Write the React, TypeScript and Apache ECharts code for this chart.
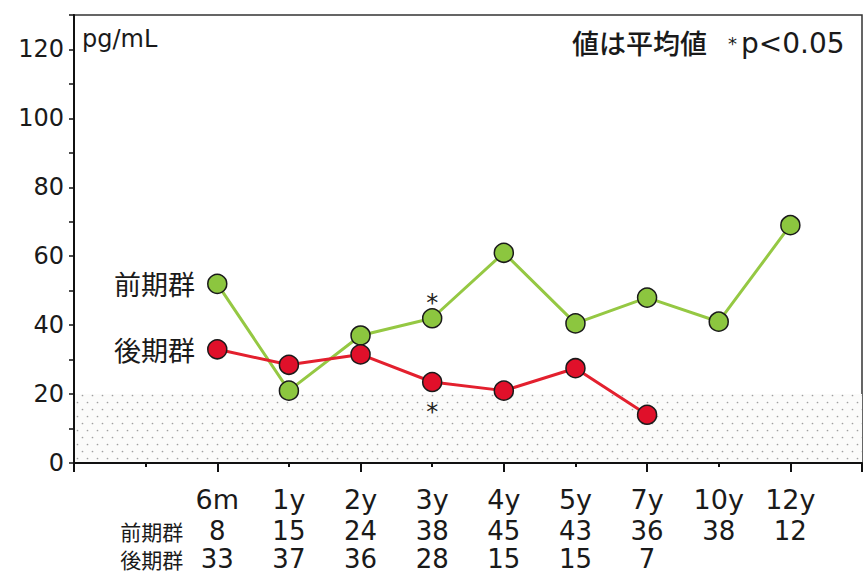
import React, { useEffect, useRef } from "react";
import * as echarts from "echarts";

const categories = ["6m", "1y", "2y", "3y", "4y", "5y", "7y", "10y", "12y"];
const earlyName = "前期群";
const lateName = "後期群";
const earlyValues = [52, 21, 37, 42, 61, 40.5, 48, 41, 69];
const lateValues = [33, 28.5, 31.5, 23.5, 21, 27.5, 14];
const earlyCounts = [8, 15, 24, 38, 45, 43, 36, 38, 12];
const lateCounts = [33, 37, 36, 28, 15, 15, 7];
const significantIdx = [3];
const normalRange = [0, 20];
const yTickLabels = [0, 20, 40, 60, 80, 100, 120];

const LATIN = "'DejaVu Sans', 'Noto Sans CJK JP', sans-serif";
const CJK = "'Noto Sans CJK JP', 'DejaVu Sans', sans-serif";

const dotSvg =
  '<svg xmlns="http://www.w3.org/2000/svg" width="10" height="14">' +
  '<rect width="10" height="14" fill="#fbfbfa"/>' +
  '<circle cx="2.5" cy="3.5" r="0.85" fill="#a0a0a0"/>' +
  '<circle cx="7.5" cy="10.5" r="0.85" fill="#a0a0a0"/></svg>';
const dotUrl = "data:image/svg+xml;utf8," + encodeURIComponent(dotSvg);

function buildData(values: number[], name: string, starOffsetY: number) {
  return values.map((v, i) => {
    const item: any = { value: [i, v] };
    if (i === 0) {
      item.label = {
        show: true,
        position: "left",
        distance: 12,
        formatter: name,
        fontFamily: CJK,
        fontSize: 27,
        color: "#1a1a1a",
      };
    } else if (significantIdx.includes(i)) {
      item.label = {
        show: true,
        position: "inside",
        offset: [0, starOffsetY],
        formatter: "*",
        fontFamily: LATIN,
        fontSize: 24,
        color: "#222",
      };
    }
    return item;
  });
}

export default function App() {
  const ref = useRef<HTMLDivElement>(null);
  useEffect(() => {
    if (!ref.current) return;
    const chart = echarts.init(ref.current, null, { renderer: "svg" });
    const option: any = {
      animation: false,
      backgroundColor: "#ffffff",
      grid: {
        left: 74,
        right: 1,
        top: 15,
        bottom: 112,
        show: true,
        borderColor: "#333",
        borderWidth: 1.5,
        backgroundColor: "transparent",
      },
      xAxis: [
        {
          type: "value",
          min: -2,
          max: 9,
          interval: 1,
          position: "bottom",
          axisLine: { show: true, onZero: false, lineStyle: { color: "#111", width: 2 } },
          axisTick: { show: true, length: 4, lineStyle: { color: "#111", width: 2 } },
          splitLine: { show: false },
          axisLabel: {
            show: true,
            margin: 19,
            showMinLabel: true,
            showMaxLabel: true,
            formatter: (v: number) => {
              if (v === -1) return `{c| }\n{h|${earlyName}}\n{h|${lateName}}`;
              if (v < 0 || v >= categories.length) return "";
              const a = earlyCounts[v] != null ? String(earlyCounts[v]) : " ";
              const b = lateCounts[v] != null ? String(lateCounts[v]) : " ";
              return `{c|${categories[v]}}\n{n|${a}}\n{n|${b}}`;
            },
            rich: {
              c: { fontFamily: LATIN, fontSize: 27, lineHeight: 35, color: "#1a1a1a" },
              n: { fontFamily: LATIN, fontSize: 26, lineHeight: 28, color: "#1a1a1a" },
              h: { fontFamily: CJK, fontSize: 21, lineHeight: 28, color: "#1a1a1a", padding: [0, 0, 0, 12] },
            },
          },
        },
        {
          type: "value",
          min: -2,
          max: 9,
          interval: 2,
          position: "bottom",
          axisLine: { show: false, onZero: false },
          axisTick: { show: true, length: 9, lineStyle: { color: "#111", width: 2 } },
          splitLine: { show: false },
          axisLabel: { show: false },
        },
      ],
      yAxis: {
        type: "value",
        min: 0,
        max: 130,
        interval: 10,
        axisLine: { show: true, onZero: false, lineStyle: { color: "#111", width: 2 } },
        axisTick: { show: true, length: 5, lineStyle: { color: "#111", width: 1.5 } },
        splitLine: { show: false },
        axisLabel: {
          margin: 10,
          fontFamily: LATIN,
          fontSize: 24,
          color: "#1a1a1a",
          formatter: (v: number) => (yTickLabels.includes(v) ? String(v) : ""),
        },
      },
      graphic: [
        {
          type: "text",
          left: 82,
          top: 27,
          style: { text: "pg/mL", font: `24px ${LATIN}`, fill: "#1a1a1a" },
        },
        {
          type: "text",
          left: 572,
          top: 29,
          style: { text: "値は平均値", font: `500 27px ${CJK}`, fill: "#1a1a1a" },
        },
        {
          type: "text",
          left: 728,
          top: 29,
          style: {
            text: "{a|*}{b|p<0.05}",
            rich: {
              a: { fontFamily: LATIN, fontSize: 18, fill: "#1a1a1a", padding: [0, 4, 0, 0] },
              b: { fontFamily: LATIN, fontSize: 28, fill: "#1a1a1a" },
            },
          },
        },
      ],
      series: [
        {
          name: earlyName,
          type: "line",
          xAxisIndex: 0,
          symbol: "circle",
          symbolSize: 19,
          z: 3,
          lineStyle: { color: "#95c843", width: 3 },
          itemStyle: { color: "#8cc63f", borderColor: "#1a1a1a", borderWidth: 1.5 },
          data: buildData(earlyValues, earlyName, -15),
          markArea: {
            silent: true,
            z: 0,
            itemStyle: {
              color: { image: dotUrl, repeat: "repeat", imageWidth: 10, imageHeight: 14 },
            },
            data: [[{ yAxis: normalRange[0], xAxis: -2 }, { yAxis: normalRange[1], xAxis: 9 }]],
          },
        },
        {
          name: lateName,
          type: "line",
          xAxisIndex: 0,
          symbol: "circle",
          symbolSize: 19,
          z: 4,
          lineStyle: { color: "#e3202e", width: 3 },
          itemStyle: { color: "#e0102a", borderColor: "#1a1a1a", borderWidth: 1.5 },
          data: buildData(lateValues, lateName, 30),
        },
      ],
    };
    chart.setOption(option);
    return () => chart.dispose();
  }, []);
  return (
    <div
      ref={ref}
      style={{ position: "fixed", left: 0, top: 0, width: 865, height: 575, background: "#fff" }}
    />
  );
}
